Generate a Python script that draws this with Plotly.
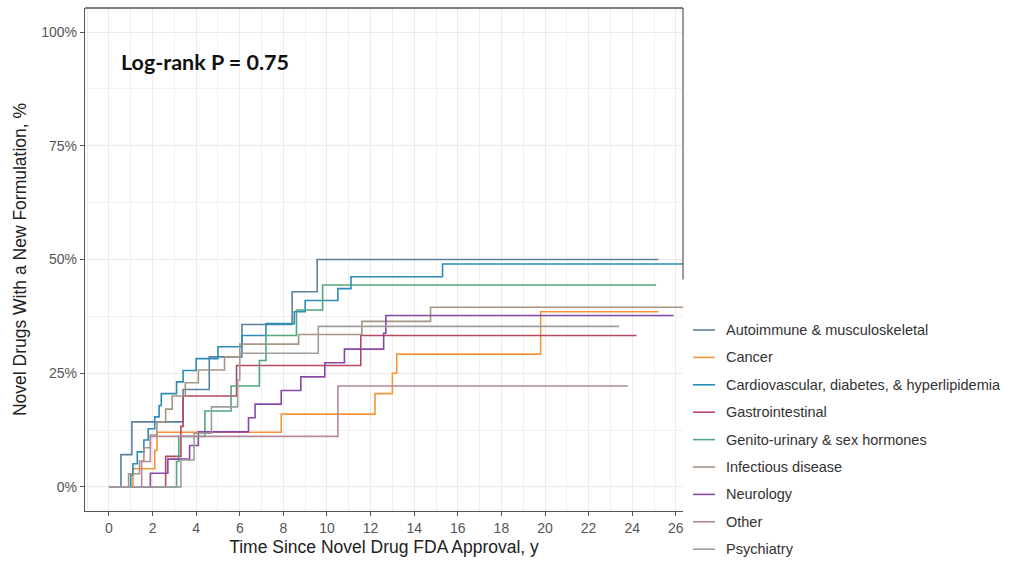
import plotly.graph_objects as go

categories = ["Autoimmune & musculoskeletal", "Cancer", "Cardiovascular, diabetes, & hyperlipidemia",
              "Gastrointestinal", "Genito-urinary & sex hormones", "Infectious disease",
              "Neurology", "Other", "Psychiatry"]
colors = ["#5d7f9e", "#f7943a", "#2b8cb8", "#b5475f", "#52a67d", "#a69582", "#8848a8", "#b58a9c", "#9e9e9e"]

autoimmune_t = [0, 0.55, 1.05, 3.4, 4.6, 6.1, 8.4, 9.55]
autoimmune_y = [0, 7.1, 14.3, 21.4, 28.6, 35.7, 42.9, 50.0]
autoimmune_end = 25.2

cancer_t = [0, 1.1, 2.1, 2.2, 7.9, 12.2, 13.0, 13.2, 19.8]
cancer_y = [0, 4.0, 8.0, 12.0, 16.0, 20.5, 25.0, 29.2, 38.5]
cancer_end = 25.2

cardio_t = [0, 1.0, 1.1, 1.3, 1.6, 1.8, 2.1, 2.3, 2.4, 3.1, 3.4, 4.0, 5.0, 6.1, 7.2, 8.5, 9.0, 10.5, 11.1, 15.3]
cardio_y = [0, 2.6, 5.1, 7.7, 10.3, 12.8, 15.4, 17.9, 20.5, 23.1, 25.6, 28.2, 30.8, 33.3, 35.9, 38.5, 41.0, 43.6, 46.2, 49.0]
cardio_end = 26.33

gastro_t = [0, 2.6, 3.3, 3.4, 5.85, 11.55]
gastro_y = [0, 6.7, 13.3, 20.0, 26.7, 33.3]
gastro_end = 24.2

genito_t = [0, 3.1, 3.2, 4.4, 5.6, 6.9, 7.2, 8.6, 9.8]
genito_y = [0, 5.6, 11.1, 16.7, 22.2, 27.8, 33.3, 38.9, 44.4]
genito_end = 25.1

infect_t = [0, 0.9, 1.4, 1.6, 1.9, 2.2, 2.6, 2.9, 3.5, 4.1, 5.3, 6.0, 8.7, 11.6, 14.75]
infect_y = [0, 2.9, 5.7, 8.6, 11.4, 14.3, 17.1, 20.0, 22.9, 25.7, 28.6, 31.4, 33.5, 36.4, 39.5]
infect_end = 26.33

neuro_t = [0, 1.9, 2.7, 3.7, 4.1, 6.4, 6.7, 7.9, 8.8, 9.9, 10.8, 12.6, 12.7]
neuro_y = [0, 3.0, 6.1, 9.1, 12.1, 15.2, 18.2, 21.2, 24.2, 27.3, 30.3, 33.8, 37.7]
neuro_end = 25.9

other_t = [0, 1.5, 1.9, 10.5]
other_y = [0, 5.6, 11.1, 22.2]
other_end = 23.8

psych_t = [0, 3.3, 3.9, 4.7, 5.9, 6.0, 9.6]
psych_y = [0, 5.9, 11.8, 17.6, 23.5, 29.4, 35.3]
psych_end = 23.4

series = [
    (autoimmune_t, autoimmune_y, autoimmune_end),
    (cancer_t, cancer_y, cancer_end),
    (cardio_t, cardio_y, cardio_end),
    (gastro_t, gastro_y, gastro_end),
    (genito_t, genito_y, genito_end),
    (infect_t, infect_y, infect_end),
    (neuro_t, neuro_y, neuro_end),
    (other_t, other_y, other_end),
    (psych_t, psych_y, psych_end),
]

x_ticks = list(range(0, 27, 2))
y_ticks = [0, 25, 50, 75, 100]

W, H = 1016, 561
ML, MR, MT, MB = 85, 333, 8, 50
PW, PH = W - ML - MR, H - MT - MB

def px_to_paper(px, py):
    return (px - ML) / PW, (H - MB - py) / PH

fig = go.Figure()
for i, (name, col, (t, y, end)) in enumerate(zip(categories, colors, series)):
    fig.add_trace(go.Scatter(
        x=list(t) + [end], y=list(y) + [y[-1]],
        mode="lines", line=dict(color=col, width=1.6, shape="hv"),
        name=name, showlegend=False,
    ))

font_main = "Liberation Sans, Arial, sans-serif"
fig.update_layout(
    width=W, height=H,
    margin=dict(l=ML, r=MR, t=MT, b=MB, autoexpand=False),
    paper_bgcolor="white", plot_bgcolor="white",
    font=dict(family=font_main, color="#333333"),
    showlegend=False,
    xaxis=dict(range=[-1.1, 26.33], tickvals=x_ticks, ticktext=[str(v) for v in x_ticks],
               showgrid=True, gridcolor="#ebebeb", gridwidth=1,
               minor=dict(dtick=1, tick0=0, showgrid=True, gridcolor="#f0f0f0", gridwidth=1),
               zeroline=False, showline=True, linecolor="#555555", linewidth=1.3,
               ticks="outside", ticklen=4, tickcolor="#555555", automargin=False,
               tickfont=dict(size=14, color="#555555"),
               title=dict(text="Time Since Novel Drug FDA Approval, y", font=dict(size=17.5, color="#222222"), standoff=5)),
    yaxis=dict(range=[-5.3, 105.3], tickvals=y_ticks, ticktext=[f"{v}%" for v in y_ticks],
               showgrid=True, gridcolor="#ebebeb", gridwidth=1,
               minor=dict(dtick=12.5, tick0=0, showgrid=True, gridcolor="#f0f0f0", gridwidth=1),
               zeroline=False, showline=True, linecolor="#555555", linewidth=1.3,
               ticks="outside", ticklen=4, tickcolor="#555555", automargin=False,
               tickfont=dict(size=14, color="#555555"),
               title=dict(text="Novel Drugs With a New Formulation, %", font=dict(size=17.5, color="#222222"), standoff=10)),
)

fig.add_shape(type="line", xref="paper", yref="paper", x0=0, x1=1, y0=1, y1=1,
              line=dict(color="#555555", width=1.3))
fig.add_shape(type="line", xref="paper", yref="paper", x0=1, x1=1, y0=1, y1=0.46,
              line=dict(color="#666666", width=1.3))

# manual legend
leg_y0, leg_dy = 330, 27.4
for i, (name, col) in enumerate(zip(categories, colors)):
    cy = leg_y0 + i * leg_dy
    xa, ya = px_to_paper(693, cy)
    xb, _ = px_to_paper(715, cy)
    fig.add_shape(type="line", xref="paper", yref="paper", x0=xa, x1=xb, y0=ya, y1=ya,
                  line=dict(color=col, width=1.6))
    xt, _ = px_to_paper(724, cy)
    fig.add_annotation(x=xt, y=ya, xref="paper", yref="paper", text=name, showarrow=False,
                       xanchor="left", yanchor="middle",
                       font=dict(size=14.5, color="#333333", family=font_main))

fig.add_annotation(x=0.45, y=93.5, xref="x", yref="y", text="<b>Log-rank P = 0.75</b>",
                   showarrow=False, xanchor="left", yanchor="middle",
                   font=dict(size=21.5, color="#111111", family="Lato, Open Sans, sans-serif"))

fig.write_html("out.html", config={"displayModeBar": False},
               post_script="document.body.style.margin='0px';document.body.style.overflow='hidden';")
